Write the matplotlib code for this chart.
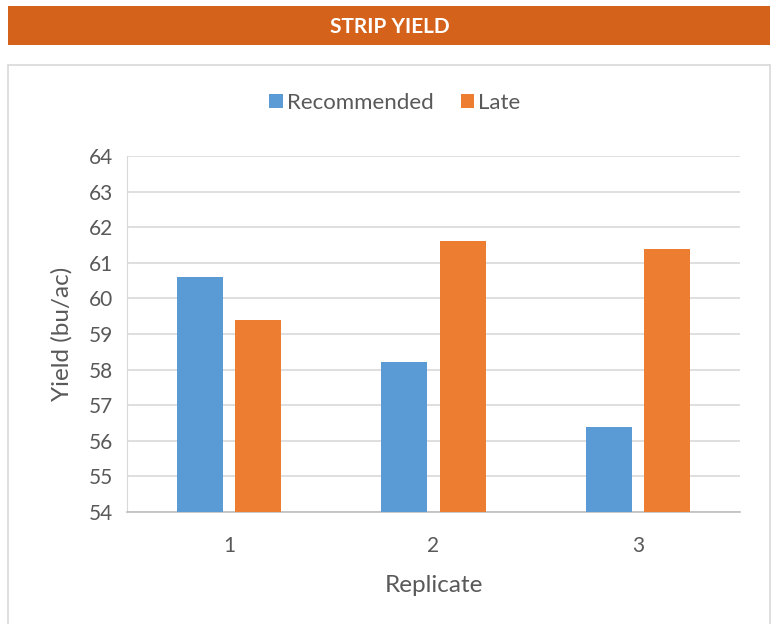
import matplotlib
matplotlib.use("Agg")
import matplotlib.pyplot as plt
import numpy as np
from matplotlib.patches import Rectangle

categories = ["1", "2", "3"]
recommended = [60.6, 58.2, 56.4]
late = [59.4, 61.6, 61.4]
yticks = [54, 55, 56, 57, 58, 59, 60, 61, 62, 63, 64]

plt.rcParams['font.family'] = ['Lato', 'DejaVu Sans']
txt = '#595959'

fig = plt.figure(figsize=(7.76, 6.24), dpi=100)
W, H = 776, 624

# title band
fig.patches.append(Rectangle((8/W, 1-45/H), 762/W, 39/H, transform=fig.transFigure,
                             facecolor='#D5621A', edgecolor='none', zorder=-10))
fig.text(390/W, 1-27/H, "STRIP YIELD", color='white', fontsize=15, fontweight='bold',
         ha='center', va='center')
# chart border
fig.patches.append(Rectangle((8/W, -0.01), 762/W, 1-65/H + 0.01, transform=fig.transFigure,
                             facecolor='white', edgecolor='#D9D9D9', linewidth=1.2, zorder=-10))

ax = fig.add_axes([127/W, 1-512/H, 613/W, 356/H])
ax.patch.set_alpha(0)
x = np.arange(len(categories))
w = 0.225
off = 0.142
b1 = ax.bar(x - off, [v - 54 for v in recommended], w, bottom=54, color='#5B9BD5', label='Recommended', zorder=3)
b2 = ax.bar(x + off, [v - 54 for v in late], w, bottom=54, color='#ED7D31', label='Late', zorder=3)
ax.set_xlim(-0.5, 2.5)
ax.set_ylim(54, 64)
ax.set_yticks(yticks)
ax.set_yticklabels([str(t) for t in yticks], fontsize=15, color=txt)
ax.set_xticks(x)
ax.set_xticklabels(categories, fontsize=15, color=txt)
ax.tick_params(length=0, pad=10)
ax.tick_params(axis='x', pad=17)
ax.grid(axis='y', color='#D9D9D9', linewidth=1.2, zorder=0)
for s in ['top', 'right']:
    ax.spines[s].set_visible(False)
ax.spines['left'].set_color('#D9D9D9')
ax.spines['bottom'].set_color('#BFBFBF')
ax.spines['bottom'].set_linewidth(1.2)
ax.set_xlabel("Replicate", fontsize=17.5, color=txt, labelpad=14)
ax.set_ylabel("Yield (bu/ac)", fontsize=17.5, color=txt, labelpad=12)
fig.legend(handles=[b1, b2], labels=['Recommended', 'Late'], loc='center',
           bbox_to_anchor=(395/W, 1-103/H), ncol=2, frameon=False, fontsize=16,
           labelcolor=txt, handlelength=0.6, handleheight=0.6, handletextpad=0.2,
           columnspacing=1.2)

fig.savefig("out.png", dpi=100)
